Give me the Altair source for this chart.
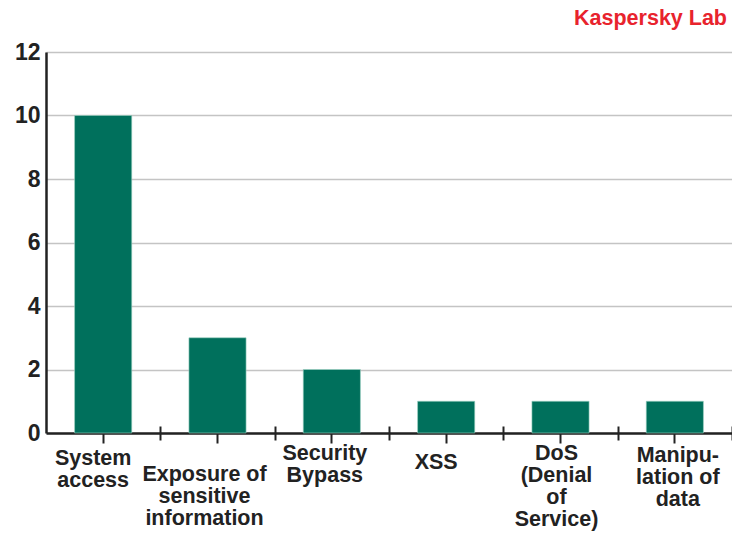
import altair as alt
import pandas as pd

# Vulnerability categories and number of cases
categories = [
    "System\naccess",
    "Exposure of\nsensitive\ninformation",
    "Security\nBypass",
    "XSS",
    "DoS\n(Denial\nof\nService)",
    "Manipu-\nlation of\ndata",
]
counts = [10, 3, 2, 1, 1, 1]

df = pd.DataFrame({"category": categories, "count": counts})

FONT = "Liberation Sans"
INK = "#222222"
PLOT_W = 686
STEP = PLOT_W / len(categories)

# placement of the multi-line category labels: (vertical padding, horizontal offset)
label_place = {
    "System": (4, -10),
    "Exposure": (20, -13),
    "Security": (-1, -7),
    "XSS": (8, -10),
    "DoS": (-1, -4),
    "Manipu-": (1, 3),
}
pad_conditions = [
    {"test": f"indexof(datum.value, '{k}') == 0", "value": v[0]}
    for k, v in label_place.items()
]
offset_conditions = [
    {"test": f"indexof(datum.value, '{k}') == 0", "value": v[1]}
    for k, v in label_place.items()
]

x_sort = categories

bars = alt.Chart(df).mark_bar(color="#00705C", stroke="#9fd3c4", strokeWidth=0.6).encode(
    x=alt.X(
        "category:N",
        sort=x_sort,
        scale=alt.Scale(paddingInner=0.5, paddingOuter=0.25),
        axis=alt.Axis(
            title=None,
            orient="bottom",
            labelAngle=0,
            labelExpr="split(datum.label, '\\n')",
            labelFont=FONT,
            labelFontSize=21.5,
            labelFontWeight="bold",
            labelColor=INK,
            labelLineHeight=22,
            labelBaseline="top",
            labelPadding={"condition": pad_conditions, "value": 5},
            labelOffset={"condition": offset_conditions, "value": 0},
            labelOverlap=False,
            labelLimit=0,
            labelBound=False,
            domainColor=INK,
            domainWidth=2.5,
            tickColor=INK,
            tickWidth=2,
            tickSize=10,
            grid=False,
        ),
    ),
    y=alt.Y(
        "count:Q",
        scale=alt.Scale(domain=[0, 12], nice=False),
        axis=alt.Axis(
            title=None,
            values=[0, 2, 4, 6, 8, 10, 12],
            labelFont=FONT,
            labelFontSize=23,
            labelFontWeight="bold",
            labelColor=INK,
            labelPadding=6,
            ticks=False,
            domainColor=INK,
            domainWidth=2.5,
            gridColor="#c4c4c4",
            gridWidth=1.5,
        ),
    ),
)

# separator ticks between category bands, crossing the baseline
separators = alt.Chart(df).mark_bar(opacity=0).encode(
    x=alt.X(
        "category:N",
        sort=x_sort,
        axis=alt.Axis(
            title=None,
            orient="bottom",
            labels=False,
            domain=False,
            grid=False,
            tickColor=INK,
            tickWidth=2,
            tickSize=14,
            tickOffset=STEP / 2,
            offset=-7,
        ),
    ),
    y="count:Q",
)

chart = (
    alt.layer(bars, separators)
    .resolve_axis(x="independent")
    .properties(
        width=PLOT_W,
        height=381,
        autosize=alt.AutoSizeParams(type="none"),
        padding={"left": 46, "top": 52, "right": 0, "bottom": 100},
        title=alt.TitleParams(
            text="Kaspersky Lab",
            anchor="end",
            frame="group",
            font=FONT,
            fontSize=21.5,
            fontWeight="bold",
            color="#E8232D",
            baseline="alphabetic",
            offset=25,
            dx=-5,
            dy=30,
        ),
    )
    .configure_view(stroke=None)
    .configure(background="white")
)

chart.save("out.html", embed_options={"renderer": "svg", "actions": False})
